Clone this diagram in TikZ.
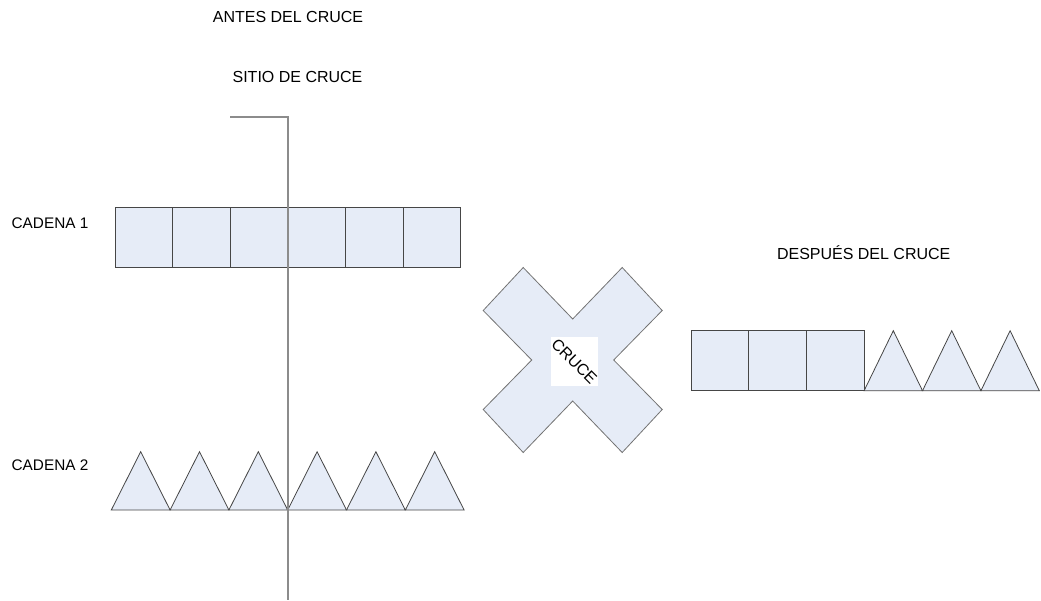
\documentclass[tikz,border=0pt]{standalone}
\usepackage{fontspec}
\setmainfont{Liberation Sans}
\usetikzlibrary{positioning, calc}

\definecolor{cellfill}{RGB}{230,236,247}
\definecolor{celledge}{RGB}{70,70,70}
\definecolor{siteline}{RGB}{140,140,140}

\begin{document}
\begin{tikzpicture}[
  x=0.75pt, y=-0.75pt,
  cell/.style={draw=celledge, fill=cellfill, line width=0.7pt,
               minimum width=57.6*0.75pt, minimum height=60*0.75pt,
               inner sep=0pt, outer sep=0pt},
  tri/.style={draw=celledge, fill=cellfill, line width=0.6pt, line join=miter},
  lbl/.style={font=\fontsize{12pt}{14pt}\selectfont, inner sep=0pt},
  side/.style={font=\fontsize{11.5pt}{13pt}\selectfont, inner sep=0pt},
]
\useasboundingbox (0,0) rectangle (1041,600);

% Titles
\node[lbl]  (antes)   at (288, 17)   {ANTES DEL CRUCE};
\node[lbl]  (sitio)   at (297.5, 77) {SITIO DE CRUCE};
\node[lbl]  (despues) at (863.7, 253) {DESPUÉS DEL CRUCE};
\node[side] (cad1)    at (50, 223)   {CADENA 1};
\node[side] (cad2)    at (50, 465)   {CADENA 2};

% Chain 1 (before)
\node[cell] (a1) at (144.1, 237.5) {};
\node[cell] (a2) at (201.7, 237.5) {};
\node[cell] (a3) at (259.3, 237.5) {};
\node[cell] (a4) at (316.9, 237.5) {};
\node[cell] (a5) at (374.5, 237.5) {};
\node[cell] (a6) at (432.1, 237.5) {};

% Chain 2 (before)
\foreach \i in {0,...,5}
  \draw[tri] ({111.3+58.8*\i}, 510) -- ({111.3+58.8*\i+29.4}, 451.7)
             -- ({111.3+58.8*(\i+1)}, 510) -- cycle;

% Crossing site
\coordinate (sitetop) at (230, 117);
\coordinate (sitebot) at (288, 600);
\draw[siteline, line width=1.3pt] (sitetop) -| (sitebot);

% Cross
\coordinate (x0) at (572.7, 360);
\draw[draw=black!55, fill=cellfill, line width=0.6pt]
  ($(x0)+(-49.5,-92.5)$) -- ($(x0)+(0,-41)$) -- ($(x0)+(49.5,-92.5)$)
  -- ($(x0)+(89.5,-49.5)$) -- ($(x0)+(41,0)$) -- ($(x0)+(89.5,49.5)$)
  -- ($(x0)+(49.5,92.5)$) -- ($(x0)+(0,41)$) -- ($(x0)+(-49.5,92.5)$)
  -- ($(x0)+(-89.5,49.5)$) -- ($(x0)+(-41,0)$) -- ($(x0)+(-89.5,-49.5)$)
  -- cycle;
\fill[white] (551, 336.7) rectangle (597.7, 386);
\node[lbl, rotate=-45] (cruce) at (574.3, 361.5) {CRUCE};

% Chain after crossing
\node[cell] (b1) at (720.1, 360.7) {};
\node[cell] (b2) at (777.7, 360.7) {};
\node[cell] (b3) at (835.3, 360.7) {};
\foreach \i in {0,1,2}
  \draw[tri] ({864.1+58.4*\i}, 390.7) -- ({864.1+58.4*\i+29.2}, 330.7)
             -- ({864.1+58.4*(\i+1)}, 390.7) -- cycle;
\end{tikzpicture}
\end{document}
